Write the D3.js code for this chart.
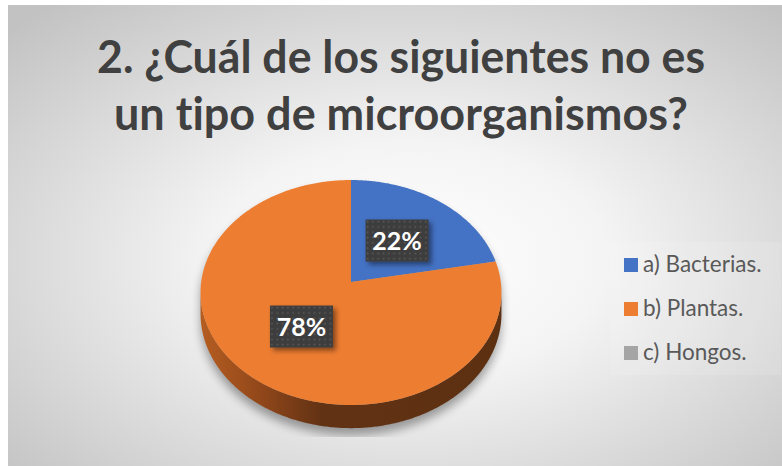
<!DOCTYPE html>
<html>
<head>
<meta charset="utf-8">
<script src="https://cdnjs.cloudflare.com/ajax/libs/d3/7.8.5/d3.min.js"></script>
<style>
  html, body { margin: 0; padding: 0; background: #ffffff; }
  svg { display: block; }
  text { font-variant-ligatures: none; font-feature-settings: "liga" 0, "clig" 0; }
</style>
</head>
<body>
<div id="chart"></div>
<script>
// chart data
var titleLines = ["2. ¿Cuál de los siguientes no es", "un tipo de microorganismos?"];
var categories = ["a) Bacterias.", "b) Plantas.", "c) Hongos."];
var values = [22, 78, 0];
var colors = ["#4472c4", "#ed7d31", "#a5a5a5"];

var W = 782, H = 466;

// pie geometry (simple perspective of a flat disk)
var cx = 351, cy = 282;
var A = 149.8, B = 111.5, k = 0.0933;
var depth = 21;

function project(phi, r, dz)
{
   var u = r * Math.sin(phi), v = -r * Math.cos(phi);
   var w = 1 - k * v;
   return [cx + A * u / w, cy + B * v / w + (dz || 0) / w];
}

function arcPoints(a0, a1, r, dz)
{
   var pts = [];
   var n = Math.max(2, Math.ceil(Math.abs(a1 - a0) / 0.01));
   for (var i = 0; i <= n; i++)
      pts.push(project(a0 + (a1 - a0) * i / n, r, dz));
   return pts;
}

var line = d3.line();

var svg = d3.select("#chart")
            .append("svg")
            .attr("width", W)
            .attr("height", H);

var defs = svg.append("defs");

var bg = defs.append("radialGradient")
             .attr("id", "bg")
             .attr("cx", "52%").attr("cy", "55%")
             .attr("r", "72%");
bg.append("stop").attr("offset", 0).attr("stop-color", "#ffffff");
bg.append("stop").attr("offset", 0.35).attr("stop-color", "#f4f4f4");
bg.append("stop").attr("offset", 1).attr("stop-color", "#c2c2c2");

var side = defs.append("linearGradient")
               .attr("id", "side")
               .attr("gradientUnits", "userSpaceOnUse")
               .attr("x1", 201).attr("x2", 502).attr("y1", 0).attr("y2", 0);
side.append("stop").attr("offset", 0).attr("stop-color", "#b55d21");
side.append("stop").attr("offset", 0.2).attr("stop-color", "#91471a");
side.append("stop").attr("offset", 0.4).attr("stop-color", "#623214");
side.append("stop").attr("offset", 1).attr("stop-color", "#5d3012");

defs.append("filter")
    .attr("id", "blur")
    .attr("x", "-20%").attr("y", "-20%").attr("width", "140%").attr("height", "140%")
    .append("feGaussianBlur")
    .attr("stdDeviation", 5);

defs.append("filter")
    .attr("id", "boxshadow")
    .attr("x", "-30%").attr("y", "-30%").attr("width", "160%").attr("height", "160%")
    .append("feDropShadow")
    .attr("dx", 3).attr("dy", 3)
    .attr("stdDeviation", 2.5)
    .attr("flood-color", "#000")
    .attr("flood-opacity", 0.45);

var dots = defs.append("pattern")
               .attr("id", "dots")
               .attr("patternUnits", "userSpaceOnUse")
               .attr("width", 5.3).attr("height", 5.3);
dots.append("rect").attr("width", 5.3).attr("height", 5.3).attr("fill", "#3d3d3d");
dots.append("rect").attr("x", 1.5).attr("y", 1.5).attr("width", 1.6).attr("height", 1.6).attr("fill", "#5a5a5a");

defs.append("clipPath")
    .attr("id", "plotclip")
    .append("rect")
    .attr("x", 8).attr("y", 5).attr("width", W).attr("height", 437 - 5);

// background
svg.append("rect")
   .attr("x", 8).attr("y", 5)
   .attr("width", W - 8).attr("height", H - 5)
   .attr("fill", "url(#bg)");

// title
svg.append("g")
   .selectAll("text")
   .data(titleLines)
   .enter()
   .append("text")
   .attr("x", 401)
   .attr("y", function (d, i) { return 73 + i * 57; })
   .attr("text-anchor", "middle")
   .attr("textLength", function (d, i) { return i == 0 ? 608 : 574; })
   .attr("lengthAdjust", "spacingAndGlyphs")
   .style("font-family", "Lato, 'Open Sans', sans-serif")
   .style("font-weight", "bold")
   .style("font-size", "45px")
   .style("fill", "#404040")
   .text(function (d) { return d; });

var arcs = d3.pie().sort(null)(values);

// visible side runs between the left- and right-most screen points
var phiR = Math.acos(-k), phiL = 2 * Math.PI - phiR;
var sidePts = arcPoints(phiR, phiL, 1, 0)
              .concat(arcPoints(phiL, phiR, 1, depth));

// shadow under the pie
var shadow = svg.append("g")
                .attr("clip-path", "url(#plotclip)")
                .append("g")
                .attr("transform", "translate(0,7)")
                .attr("filter", "url(#blur)")
                .attr("opacity", 0.35);
shadow.append("path")
      .attr("d", line(arcPoints(0, 2 * Math.PI, 1, 0)) + "Z")
      .attr("fill", "#000");
shadow.append("path")
      .attr("d", line(sidePts) + "Z")
      .attr("fill", "#000");

// side wall (only the orange slice faces the viewer)
svg.append("path")
   .attr("d", line(sidePts) + "Z")
   .attr("fill", "url(#side)");

// top face slices
svg.append("g")
   .selectAll("path")
   .data(arcs.filter(function (d) { return d.value > 0; }))
   .enter()
   .append("path")
   .attr("d", function (d) {
        var pts = [[cx, cy]].concat(arcPoints(d.startAngle, d.endAngle, 1, 0));
        return line(pts) + "Z";
   })
   .attr("fill", function (d) { return colors[d.index]; });

// data labels
var total = d3.sum(values);
var labels = svg.append("g")
                .selectAll("g")
                .data(arcs.filter(function (d) { return d.value > 0; }))
                .enter()
                .append("g")
                .attr("transform", function (d) {
                     var p = project((d.startAngle + d.endAngle) / 2, 0.5, 0);
                     return "translate(" + p[0] + "," + p[1] + ")";
                });
labels.append("rect")
      .attr("x", -31.5).attr("y", -21)
      .attr("width", 63).attr("height", 42)
      .attr("fill", "url(#dots)")
      .attr("filter", "url(#boxshadow)");
labels.append("text")
      .attr("y", 9)
      .attr("text-anchor", "middle")
      .style("font-family", "Lato, 'Open Sans', sans-serif")
      .style("font-weight", "bold")
      .style("font-size", "25px")
      .style("fill", "#ffffff")
      .text(function (d) { return Math.round(d.value / total * 100) + "%"; });

// legend
var legend = svg.append("g");
legend.append("rect")
      .attr("x", 611).attr("y", 242)
      .attr("width", 170).attr("height", 133)
      .attr("fill", "#ffffff")
      .attr("opacity", 0.12);
var items = legend.selectAll(".item")
                  .data(categories)
                  .enter()
                  .append("g")
                  .classed("item", true)
                  .attr("transform", function (d, i) { return "translate(624," + (258 + i * 44) + ")"; });
items.append("rect")
     .attr("width", 14).attr("height", 14)
     .attr("fill", function (d, i) { return colors[i]; });
items.append("text")
     .attr("x", 19).attr("y", 14)
     .style("font-family", "Lato, 'Open Sans', sans-serif")
     .style("font-size", "22.5px")
     .style("fill", "#595959")
     .text(function (d) { return d; });
</script>
</body>
</html>
